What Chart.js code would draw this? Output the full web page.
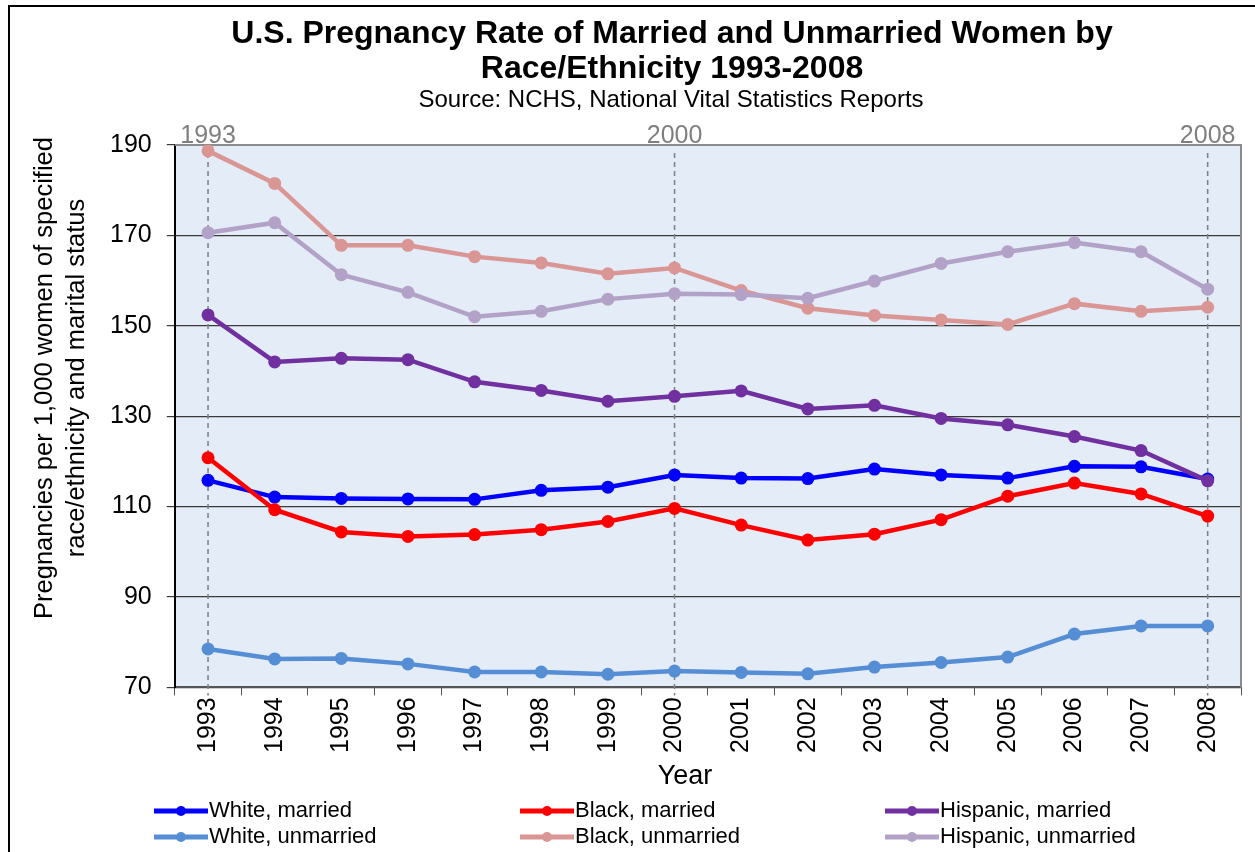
<!DOCTYPE html>
<html>
<head>
<meta charset="utf-8">
<script src="https://cdn.jsdelivr.net/npm/chart.js@4/dist/chart.umd.min.js"></script>
<style>
  html, body { margin: 0; padding: 0; background: #fff; }
  #wrap { width: 1255px; height: 852px; }
</style>
</head>
<body>
<div id="wrap"><canvas id="chart" width="1255" height="852"></canvas></div>
<script>
// years on the x axis
const years = ['1993', '1994', '1995', '1996', '1997', '1998', '1999', '2000',
  '2001', '2002', '2003', '2004', '2005', '2006', '2007', '2008'];

// pregnancies per 1,000 women
const whiteMarried = [115.8, 112.1, 111.8, 111.7, 111.6, 113.6, 114.3, 117.0,
  116.3, 116.2, 118.3, 117.0, 116.3, 118.9, 118.8, 116.1];
const blackMarried = [120.8, 109.3, 104.4, 103.4, 103.8, 104.9, 106.7, 109.6,
  105.9, 102.6, 103.9, 107.1, 112.3, 115.2, 112.8, 107.9];
const hispanicMarried = [152.4, 142.0, 142.8, 142.5, 137.6, 135.7, 133.3, 134.4,
  135.6, 131.6, 132.4, 129.5, 128.1, 125.5, 122.4, 115.7];
const whiteUnmarried = [78.5, 76.3, 76.4, 75.2, 73.4, 73.4, 72.9, 73.6,
  73.3, 73.0, 74.5, 75.5, 76.7, 81.8, 83.6, 83.6];
const blackUnmarried = [188.7, 181.5, 167.8, 167.8, 165.3, 163.9, 161.5, 162.8,
  157.8, 153.9, 152.3, 151.3, 150.3, 154.9, 153.2, 154.1];
const hispanicUnmarried = [170.6, 172.8, 161.3, 157.4, 152.0, 153.2, 155.9, 157.1,
  156.9, 156.1, 159.9, 163.8, 166.4, 168.4, 166.4, 158.1];

const seriesNames = ['White, married', 'Black, married', 'Hispanic, married',
  'White, unmarried', 'Black, unmarried', 'Hispanic, unmarried'];
const seriesData = [whiteMarried, blackMarried, hispanicMarried,
  whiteUnmarried, blackUnmarried, hispanicUnmarried];
const seriesColors = ['#0000ff', '#ff0000', '#7030a0', '#558ed5', '#d99694', '#b3a2c7'];

// years marked with dashed lines
const markedYears = ['1993', '2000', '2008'];

const yMin = 70, yMax = 190, yStep = 20;

const titleLines = ['U.S. Pregnancy Rate of Married and Unmarried Women by', 'Race/Ethnicity 1993-2008'];
const subtitleText = 'Source: NCHS, National Vital Statistics Reports';
const yTitleLines = ['Pregnancies per 1,000 women of specified', 'race/ethnicity and marital status'];
const xTitleText = 'Year';

const FONT = "'Liberation Sans', Arial, sans-serif";

const backdrop = {
  id: 'backdrop',
  beforeDraw(chart) {
    const { ctx, chartArea: a } = chart;
    ctx.save();
    ctx.fillStyle = '#fff';
    ctx.fillRect(0, 0, chart.width, chart.height);
    ctx.fillStyle = '#e4ecf7';
    ctx.fillRect(a.left, a.top, a.right - a.left, a.bottom - a.top);
    // outer frame (only top and left edges are in view)
    ctx.strokeStyle = '#000';
    ctx.lineWidth = 2;
    ctx.beginPath();
    ctx.moveTo(9, chart.height + 5);
    ctx.lineTo(9, 6);
    ctx.lineTo(chart.width + 5, 6);
    ctx.stroke();
    ctx.restore();
  },
  beforeDatasetsDraw(chart) {
    const { ctx, chartArea: a, scales } = chart;
    ctx.save();
    // plot frame top and right
    ctx.strokeStyle = '#8c8c8c';
    ctx.lineWidth = 2;
    ctx.beginPath();
    ctx.moveTo(a.left, a.top);
    ctx.lineTo(a.right, a.top);
    ctx.lineTo(a.right, a.bottom);
    ctx.stroke();
    // dashed marker lines
    ctx.strokeStyle = '#7f7f7f';
    ctx.lineWidth = 1.5;
    ctx.setLineDash([5, 4]);
    ctx.fillStyle = '#7f7f7f';
    ctx.font = '25px ' + FONT;
    ctx.textAlign = 'center';
    ctx.textBaseline = 'alphabetic';
    markedYears.forEach(y => {
      const x = scales.x.getPixelForValue(years.indexOf(y));
      ctx.beginPath();
      ctx.moveTo(x, a.top + 8);
      ctx.lineTo(x, a.bottom + 8);
      ctx.stroke();
      ctx.fillText(y, x, a.top - 2);
    });
    ctx.restore();
  },
  afterDraw(chart) {
    const { ctx } = chart;
    ctx.save();
    ctx.fillStyle = '#000';
    ctx.textAlign = 'center';
    ctx.textBaseline = 'middle';
    // titles
    ctx.font = 'bold 32px ' + FONT;
    ctx.fillText(titleLines[0], 672, 34);
    ctx.fillText(titleLines[1], 672, 69);
    ctx.font = '24px ' + FONT;
    ctx.fillText(subtitleText, 671, 100);
    // x axis title
    ctx.font = '27px ' + FONT;
    ctx.fillText(xTitleText, 685, 777);
    // y axis title
    ctx.save();
    ctx.translate(45, 378);
    ctx.rotate(-Math.PI / 2);
    ctx.font = '25.5px ' + FONT;
    ctx.fillText(yTitleLines[0], 0, 0);
    ctx.fillText(yTitleLines[1], 0, 32);
    ctx.restore();
    // legend, 3 columns x 2 rows
    const colX = [154, 520, 885];
    const rowY = [811, 837];
    ctx.font = '22px ' + FONT;
    ctx.textAlign = 'left';
    seriesNames.forEach((name, i) => {
      const x = colX[i % 3], y = rowY[Math.floor(i / 3)];
      ctx.strokeStyle = seriesColors[i];
      ctx.fillStyle = seriesColors[i];
      ctx.lineWidth = 5;
      ctx.beginPath();
      ctx.moveTo(x, y);
      ctx.lineTo(x + 54, y);
      ctx.stroke();
      ctx.beginPath();
      ctx.arc(x + 27, y, 5, 0, Math.PI * 2);
      ctx.fill();
      ctx.fillStyle = '#000';
      ctx.fillText(name, x + 55, y);
    });
    ctx.restore();
  }
};

new Chart(document.getElementById('chart'), {
  type: 'line',
  data: {
    labels: years,
    datasets: seriesNames.map((name, i) => ({
      label: name,
      data: seriesData[i],
      borderColor: seriesColors[i],
      backgroundColor: seriesColors[i],
      borderWidth: 4.5,
      pointRadius: 6.5,
      pointBorderWidth: 0,
      pointBackgroundColor: seriesColors[i],
      tension: 0,
      order: seriesNames.length - i
    }))
  },
  options: {
    responsive: false,
    animation: false,
    layout: { padding: { left: 95, right: 14, top: 145, bottom: 97 } },
    plugins: {
      legend: { display: false },
      tooltip: { enabled: false },
      title: { display: false },
      subtitle: { display: false }
    },
    scales: {
      x: {
        offset: true,
        grid: {
          offset: true,
          drawOnChartArea: false,
          drawTicks: true,
          tickLength: 8,
          color: '#555'
        },
        border: { color: '#555', width: 2 },
        ticks: {
          color: '#000',
          font: { family: FONT, size: 25 },
          minRotation: 90,
          maxRotation: 90,
          padding: 2
        }
      },
      y: {
        min: yMin,
        max: yMax,
        grid: {
          color: '#3a3a3a',
          lineWidth: 1.2,
          tickLength: 8
        },
        border: { color: '#000', width: 2 },
        ticks: {
          stepSize: yStep,
          color: '#000',
          font: { family: FONT, size: 25 },
          padding: 15
        }
      }
    }
  },
  plugins: [backdrop]
});
</script>
</body>
</html>
